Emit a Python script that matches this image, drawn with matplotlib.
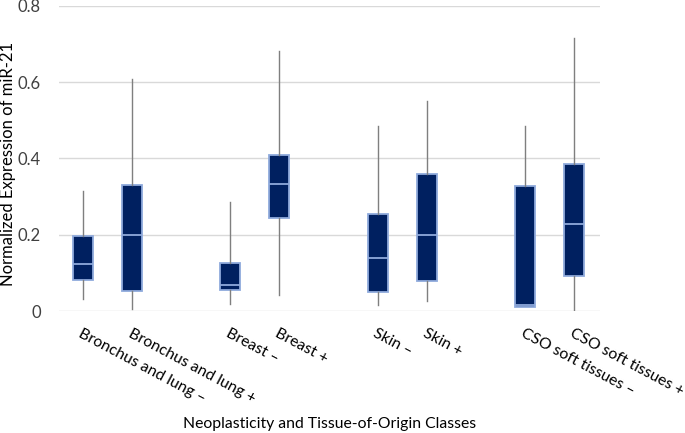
import matplotlib
matplotlib.use("Agg")
import matplotlib.pyplot as plt

# =========================
# DATA
# =========================
categories = ["Bronchus and lung \u2013", "Bronchus and lung +",
              "Breast \u2013", "Breast +",
              "Skin \u2013", "Skin +",
              "CSO soft tissues \u2013", "CSO soft tissues +"]
whisker_low = [0.031, 0.005, 0.018, 0.041, 0.015, 0.026, 0.010, 0.003]
q1 = [0.081, 0.053, 0.055, 0.245, 0.050, 0.079, 0.011, 0.091]
median = [0.124, 0.198, 0.069, 0.333, 0.140, 0.200, 0.016, 0.228]
q3 = [0.196, 0.330, 0.125, 0.408, 0.253, 0.359, 0.327, 0.384]
whisker_high = [0.314, 0.609, 0.286, 0.680, 0.484, 0.550, 0.485, 0.715]
y_ticks = [0, 0.2, 0.4, 0.6, 0.8]
y_tick_labels = ["0", "0.2", "0.4", "0.6", "0.8"]

# two boxes per tissue, one empty slot between tissues
positions = [0, 1, 3, 4, 6, 7, 9, 10]

plt.rcParams["font.family"] = ["Lato", "DejaVu Sans"]

fig = plt.figure(figsize=(6.85, 4.33), dpi=100)
ax = fig.add_axes([59 / 685, 1 - 311 / 433, 541 / 685, 305.3 / 433])

stats = []
for i, name in enumerate(categories):
    stats.append({
        "label": name,
        "whislo": whisker_low[i],
        "q1": q1[i],
        "med": median[i],
        "q3": q3[i],
        "whishi": whisker_high[i],
        "fliers": [],
    })

ax.bxp(
    stats,
    positions=positions,
    widths=0.41,
    patch_artist=True,
    showcaps=False,
    showfliers=False,
    boxprops=dict(facecolor="#002060", edgecolor="#8FAADC", linewidth=1.3),
    medianprops=dict(color="#8FAADC", linewidth=1.3),
    whiskerprops=dict(color="#7F7F7F", linewidth=1.0),
    zorder=3,
)

ax.set_xlim(-0.49, 10.53)
ax.set_ylim(0, 0.8)
ax.set_yticks(y_ticks)
ax.set_yticklabels(y_tick_labels, fontsize=12, color="#404040")
ax.set_xticks(positions)
ax.set_xticklabels(categories, fontsize=11.3, color="#000000",
                   rotation=-28, ha="left", va="top", rotation_mode="anchor")
ax.tick_params(axis="both", length=0)
ax.tick_params(axis="x", pad=11)
ax.tick_params(axis="y", pad=13)

ax.grid(True, axis="y", color="#D9D9D9", linewidth=1.0, zorder=0)
for side in ["top", "right", "left", "bottom"]:
    ax.spines[side].set_visible(False)

ax.set_ylabel("Normalized Expression of miR-21", fontsize=12, color="#000000")
ax.yaxis.set_label_coords(-51 / 541, 147 / 305.3)
ax.yaxis.label.set_va("center")
ax.set_xlabel("Neoplasticity and Tissue-of-Origin Classes", fontsize=11.3, color="#000000")
ax.xaxis.set_label_coords(271 / 541, -113 / 305.3)
ax.xaxis.label.set_va("center")

fig.savefig("out.png", dpi=100)
plt.close(fig)
